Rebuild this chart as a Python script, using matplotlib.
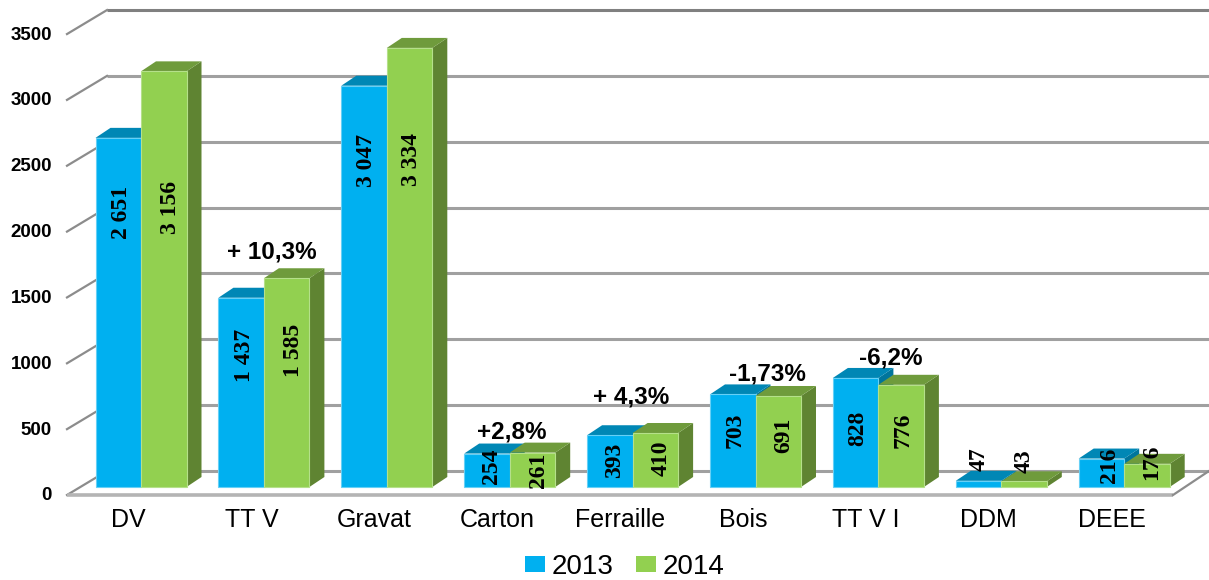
import numpy as np
import matplotlib
matplotlib.use('Agg')
import matplotlib.pyplot as plt
from matplotlib.patches import Polygon, Patch

# data
categories = ['DV', 'TT V', 'Gravat', 'Carton', 'Ferraille', 'Bois', 'TT V I', 'DDM', 'DEEE']
values_2013 = [2651, 1437, 3047, 254, 393, 703, 828, 47, 216]
values_2014 = [3156, 1585, 3334, 261, 410, 691, 776, 43, 176]
labels_2013 = ['2 651', '1 437', '3 047', '254', '393', '703', '828', '47', '216']
labels_2014 = ['3 156', '1 585', '3 334', '261', '410', '691', '776', '43', '176']
yticks = [0, 500, 1000, 1500, 2000, 2500, 3000, 3500]
changes = {1: '+ 10,3%', 3: '+2,8%', 4: '+ 4,3%', 5: '-1,73%', 6: '-6,2%'}

# layout, in pixels of the 1209x580 picture
W, H = 1209, 580
PX_X = 122.9    # pixels per category
PX_Y = 0.1317   # pixels per unit
X0, Y0 = 141, 487
BAR_W = 45.5 / PX_X

fig = plt.figure(figsize=(W / 100, H / 100), dpi=100)
ax = fig.add_axes([0, 0, 1, 1])
ax.set_xlim(-X0 / PX_X, (W - X0) / PX_X)
ax.set_ylim(-(H - Y0) / PX_Y, Y0 / PX_Y)
ax.axis('off')

def dx(px): return px / PX_X
def dy(px): return px / PX_Y
def xpos(px): return (px - X0) / PX_X
def ypos(px): return (Y0 - px) / PX_Y

SANS = 'Liberation Sans'
SERIF = 'Liberation Serif'

# floor, grid lines and slanted ticks
front_x = xpos(67)
wall_x = xpos(107)
right_x = xpos(1173)
end_x = xpos(1209)
shift = dy(8)     # the front edge of the floor sits lower than the bar feet
rise = dy(24)
for v in yticks:
    y = v - shift
    col = '#808080' if v == 3500 else '#a0a0a0'
    ax.plot([wall_x, end_x], [y + rise, y + rise], color=col, lw=2.2, zorder=1, solid_capstyle='butt')
    ax.plot([front_x, wall_x], [y, y + rise], color='#8c8c8c', lw=1.6, zorder=1)
    ax.text(xpos(52), y - dy(1), str(v), ha='right', va='center', family=SANS,
            fontweight='bold', fontsize=13.5, color='black')
ax.plot([front_x, right_x], [-shift, -shift], color='#b4b4b4', lw=2.6, zorder=1, solid_capstyle='butt')
ax.plot([right_x, end_x], [-shift, -shift + rise], color='#8c8c8c', lw=1.6, zorder=1)

# 3D bars
def bar3d(x, v, front, top, side, edge, z):
    ddx, ddy = dx(15), dy(10)
    ax.add_patch(Polygon([(x + BAR_W, 0), (x + BAR_W + ddx, ddy), (x + BAR_W + ddx, v + ddy), (x + BAR_W, v)],
                         facecolor=side, edgecolor='none', zorder=z))
    ax.add_patch(Polygon([(x, v), (x + ddx, v + ddy), (x + BAR_W + ddx, v + ddy), (x + BAR_W, v)],
                         facecolor=top, edgecolor='none', zorder=z))
    ax.add_patch(Polygon([(x, 0), (x + BAR_W, 0), (x + BAR_W, v), (x, v)],
                         facecolor=front, edgecolor=edge, lw=0.8, zorder=z + 0.1))

for i in range(len(categories)):
    bar3d(i - BAR_W, values_2013[i], '#00B0F0', '#0087B5', '#00759c', '#66d0f6', 2 + i * 0.01)
    bar3d(i, values_2014[i], '#92D050', '#6F9B3C', '#5F8432', '#b5e08a', 2.5 + i * 0.01)

# data labels: not centred in the bars in the source chart
label_y_2013 = [212, 355, 160, 466, 460, 430, 428, 459, 465]
label_y_2014 = [207, 350, 160, 470, 458, 435, 430, 461, 462]
label_off_2013 = [3, 3, 2, 5, 5, 2, 2, 1, 8]
label_off_2014 = [7, 7, 2, 6, 6, 5, 2, 0, 5]
for i in range(len(categories)):
    ax.text(i - BAR_W / 2 + dx(label_off_2013[i]), ypos(label_y_2013[i]), labels_2013[i], rotation=90,
            ha='center', va='center', family=SERIF, fontsize=17, fontweight='bold', color='black', zorder=5)
    ax.text(i + BAR_W / 2 + dx(label_off_2014[i]), ypos(label_y_2014[i]), labels_2014[i], rotation=90,
            ha='center', va='center', family=SERIF, fontsize=17, fontweight='bold', color='black', zorder=5)
    ax.text(i + dx(-12.5), ypos(520), categories[i], ha='center', va='center', family=SANS,
            fontsize=18, color='black', zorder=5)

# change annotations
change_pos = {1: (272, 252), 3: (512, 432), 4: (631, 397), 5: (767, 374), 6: (891, 358)}
for i, txt in changes.items():
    px, py = change_pos[i]
    ax.text(xpos(px), ypos(py), txt, ha='center', va='center', family=SANS,
            fontweight='bold', fontsize=17.5, color='black', zorder=6)

handles = [Patch(facecolor='#00B0F0', label='2013'), Patch(facecolor='#92D050', label='2014')]
ax.legend(handles=handles, loc='center', bbox_to_anchor=(625 / W, 1 - 567 / H), ncol=2, frameon=False,
          prop={'family': SANS, 'size': 20}, handlelength=0.72, handleheight=0.5,
          handletextpad=0.25, columnspacing=0.8, borderpad=0)

fig.savefig('out.png', dpi=100)
